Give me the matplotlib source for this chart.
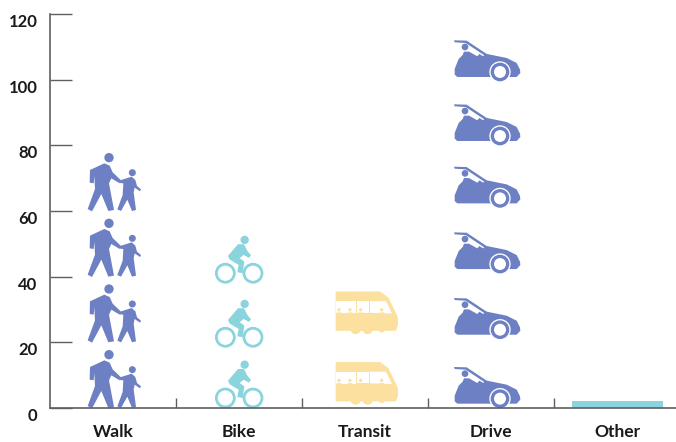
import matplotlib
matplotlib.use("Agg")
import matplotlib.pyplot as plt
from matplotlib.patches import Polygon, Circle
from matplotlib.transforms import Affine2D

categories = ["Walk", "Bike", "Transit", "Drive", "Other"]
walk_levels = [0, 20, 40, 60]
bike_levels = [0, 18.5, 38]
transit_levels = [1, 22.5]
drive_levels = [0, 21, 41, 61, 80, 99.5]
other_value = [0, 0, 0, 0, 2]
y_ticks = [0, 20, 40, 60, 80, 100, 120]

BLUE = "#6D80C3"
TEAL = "#89D4DD"
YELLOW = "#FBE09F"
AXIS = "#5F5F5F"
TEXT = "#1A1A1A"

plt.rcParams["font.family"] = ["Lato", "DejaVu Sans"]
fig = plt.figure(figsize=(6.76, 4.42), dpi=100)
ax = fig.add_axes([50 / 676, 1 - 408 / 442, 626 / 676, 394 / 442])
PX_PER_CAT = 126.0
ax.set_xlim((50 - 113) / PX_PER_CAT, (676 - 113) / PX_PER_CAT)
ax.set_ylim(0, 120)
PX_PER_UNIT = 394 / 120.0


def place(cat, level, cx, base):
    # icon outlines are in 3x pixel units, y downward
    return (Affine2D().translate(-cx, -base).scale(1 / 3 / PX_PER_CAT, -1 / 3 / PX_PER_UNIT)
            .translate(cat, level) + ax.transData)


def poly(pts, color, tr, z=3):
    ax.add_patch(Polygon(pts, closed=True, fc=color, ec="none", transform=tr, zorder=z, clip_on=False))


def circ(c, r, color, tr, z=3, ec="none", lw=0):
    ax.add_patch(Circle(c, r, fc=color, ec=ec, lw=lw, transform=tr, zorder=z, clip_on=False))


ADULT = [(60, 85), (103, 65), (119, 72), (128, 92), (152, 115), (149, 125), (124, 110), (117, 125), (132, 205),
         (115, 208), (94, 157), (66, 209), (53, 202), (75, 142), (73, 103), (71, 125), (59, 123)]
CHILD = [(163, 112), (185, 105), (196, 115), (201, 133), (213, 143), (210, 149), (194, 138), (191, 152), (198, 205),
         (186, 208), (172, 174), (153, 208), (142, 203), (158, 160), (160, 125), (150, 124), (150, 116)]


def walker(cat, level):
    tr = place(cat, level, 129, 208)
    poly(ADULT, BLUE, tr)
    poly(CHILD, BLUE, tr)
    circ((117, 48), 14, BLUE, tr)
    circ((187, 93), 10.5, BLUE, tr)


RIDER = [(475, 345), (505, 310), (523, 310), (533, 330), (544, 343), (538, 351), (522, 342), (510, 352), (524, 362),
         (519, 397), (503, 394), (507, 372), (480, 356)]


def biker(cat, level):
    tr = place(cat, level, 508, 427)
    poly(RIDER, TEAL, tr)
    circ((525, 297), 12.5, TEAL, tr)
    circ((467, 397), 27, "none", tr, ec=TEAL, lw=2.0)
    circ((550, 397), 27, "none", tr, ec=TEAL, lw=2.0)


BUS = [(47, 250), (180, 250), (205, 268), (228, 315), (234, 330), (234, 350), (228, 368), (47, 368)]


def bus(cat, level):
    tr = place(cat, level, 135, 378)
    poly(BUS, YELLOW, tr)
    circ((107, 362), 16, YELLOW, tr)
    circ((143, 362), 16, YELLOW, tr)
    circ((185, 362), 11, YELLOW, tr)
    poly([(47, 279), (108, 279), (108, 316), (47, 316)], "white", tr, 4)
    poly([(112, 279), (146, 279), (146, 314), (112, 314)], "white", tr, 4)
    poly([(150, 279), (198, 279), (216, 316), (150, 314)], "white", tr, 4)
    for x in (57, 90, 122, 185):
        circ((x, 305), 5, YELLOW, tr, 5)
        poly([(x - 10, 322), (x - 7, 313), (x + 7, 313), (x + 10, 322)], YELLOW, tr, 5)


CAR = [(416, 318), (428, 306), (432, 296), (447, 296), (472, 310), (478, 303), (490, 310), (496, 302), (560, 315),
       (590, 330), (600, 350), (601, 360), (590, 372), (412, 372), (404, 365), (404, 348)]
ROOF = [(402, 262), (440, 263), (500, 303), (496, 309), (437, 270), (404, 268)]


def car(cat, level):
    tr = place(cat, level, 513, 385)
    poly(CAR, BLUE, tr)
    poly(ROOF, BLUE, tr)
    circ((435, 282), 10, BLUE, tr, 4)
    circ((540, 357), 32, "white", tr, 4)
    circ((540, 357), 23, "white", tr, 5, ec=BLUE, lw=2.4)


for lv in walk_levels:
    walker(0, lv)
for lv in bike_levels:
    biker(1, lv)
for lv in transit_levels:
    bus(2, lv)
for lv in drive_levels:
    car(3, lv)

ax.bar(range(len(categories)), other_value, width=91 / PX_PER_CAT, color=TEAL, zorder=2, align="center")

for s in ("top", "right"):
    ax.spines[s].set_visible(False)
for s in ("left", "bottom"):
    ax.spines[s].set_color(AXIS)
    ax.spines[s].set_linewidth(1.2)
    ax.spines[s].set_zorder(6)

ax.set_yticks(y_ticks)
ax.set_yticklabels([str(v) for v in y_ticks], fontsize=12, fontweight="bold", color=TEXT, va="top")
ax.tick_params(axis="y", direction="in", length=16, width=1.0, color=AXIS, pad=9)
ax.set_xticks([i + 0.5 for i in range(len(categories) - 1)], minor=True)
ax.set_xticks(range(len(categories)))
ax.set_xticklabels(categories, fontsize=12.5, fontweight="bold", color=TEXT)
ax.tick_params(axis="x", which="major", length=0, pad=11.5)
ax.tick_params(axis="x", which="minor", direction="in", length=7.5, width=1.0, color=AXIS)
fig.savefig("out.png", dpi=100)
